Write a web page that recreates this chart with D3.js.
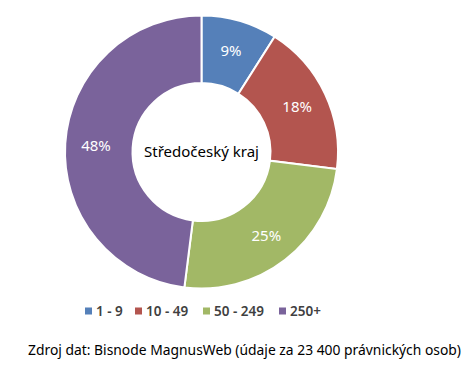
<!DOCTYPE html>
<html><head><meta charset="utf-8">
<script src="https://cdn.jsdelivr.net/npm/d3@7"></script>
<style>body{margin:0;background:#fff}svg{display:block}</style>
</head><body>
<script>
const categories = ["1 - 9", "10 - 49", "50 - 249", "250+"];
const values = [9, 18, 25, 48];
const labels = ["9%", "18%", "25%", "48%"];
const colors = ["#5580B9", "#B3554F", "#A2B866", "#7A639B"];
const centerTitle = "Středočeský kraj";
const sourceText = "Zdroj dat: Bisnode MagnusWeb (údaje za 23 400 právnických osob)";

const W = 474, H = 381;
const svg = d3.select("body").append("svg").attr("width", W).attr("height", H);
const font = "'Noto Sans', 'Open Sans', sans-serif";
const cx = 201.5, cy = 152, R = 136.5, r = 69;

const pie = d3.pie().sort(null).value(d => d)(values);
const arc = d3.arc().innerRadius(r).outerRadius(R);
const labelArc = d3.arc().innerRadius((R + r) / 2 + 3).outerRadius((R + r) / 2 + 3);
const g = svg.append("g").attr("transform", `translate(${cx},${cy})`);
g.selectAll("path").data(pie).join("path")
  .attr("d", arc).attr("fill", (d, i) => colors[i])
  .attr("stroke", "#fff").attr("stroke-width", 2);
g.selectAll("text.lbl").data(pie).join("text").attr("class", "lbl")
  .attr("transform", d => `translate(${labelArc.centroid(d)})`)
  .attr("text-anchor", "middle").attr("dy", "0.35em")
  .attr("fill", "#fff").attr("font-family", font).attr("font-size", 15)
  .text((d, i) => labels[i]);
g.append("text").attr("text-anchor", "middle").attr("dy", "0.35em")
  .attr("font-family", font).attr("font-size", 15).attr("fill", "#000")
  .text(centerTitle);

const legendPos = [85, 135, 203, 279];
const lg = svg.append("g").attr("transform", "translate(0,311)");
const items = lg.selectAll("g").data(categories).join("g")
  .attr("transform", (d, i) => `translate(${legendPos[i]},0)`);
items.append("rect").attr("x", 0).attr("y", -3.5).attr("width", 7).attr("height", 7)
  .attr("fill", (d, i) => colors[i]);
items.append("text").attr("x", 11).attr("dy", "0.35em")
  .attr("font-family", font).attr("font-size", 13.5).attr("font-weight", 600)
  .attr("fill", "#404040").text(d => d);

svg.append("text").attr("x", 28).attr("y", 355)
  .attr("font-family", font).attr("font-size", 14).attr("fill", "#000")
  .attr("textLength", 433).attr("lengthAdjust", "spacingAndGlyphs")
  .text(sourceText);
</script>
</body></html>
